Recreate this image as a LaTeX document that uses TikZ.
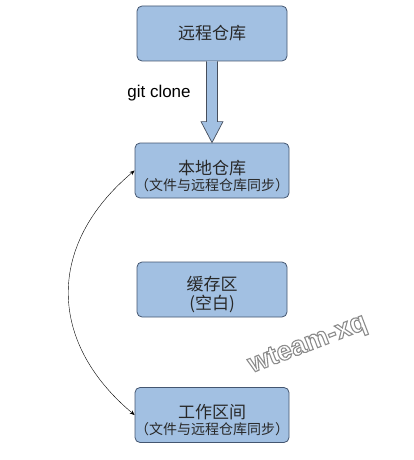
\documentclass[tikz,border=0pt]{standalone}
\usepackage{fontspec}
\setmainfont{Liberation Sans}
\newfontfamily\cjk{Noto Sans CJK SC}
\newcommand{\subsize}{\fontsize{14}{17}\selectfont}
\newcommand{\lowered}{\rule{0pt}{25pt}}
\newcommand{\outlined}[1]{\special{pdf:code 2 Tr 0.55 G 1.1 w}#1\special{pdf:code 0 Tr}}
\usetikzlibrary{arrows.meta}

\begin{document}
\begin{tikzpicture}[x=1pt,y=-1pt,
  repo/.style={draw=edgecolor,fill=boxcolor,line width=0.8pt,rounded corners=5pt,
    minimum width=150pt,minimum height=55pt,inner sep=0pt,align=center,
    text=textcolor,font=\cjk\fontsize{17}{20}\selectfont},
  blockarrow/.style={draw=arrowedge,fill=boxcolor,line width=0.7pt,line join=miter},
  linkarrow/.style={thin,{Stealth[length=5pt,width=4pt]}-{Stealth[length=5pt,width=4pt]}},
  wmtext/.style={rotate=21,inner sep=0pt,text=white,font=\bfseries\fontsize{27}{30}\selectfont}]
\definecolor{boxcolor}{RGB}{162,192,226}
\definecolor{edgecolor}{RGB}{68,86,112}
\definecolor{arrowedge}{RGB}{70,78,92}
\definecolor{textcolor}{RGB}{40,40,40}
\useasboundingbox (0,0) rectangle (414,460);
\node[repo] (remote) at (212,33.5) {远程仓库};
\node[repo] (local) at (212,170.5) {\lowered 本地仓库\\[-4pt]{\subsize （文件与远程仓库同步）}};
\node[repo] (cache) at (212,289.5) {\lowered 缓存区\\[-1pt](空白)};
\node[repo] (work) at (212,415) {\lowered 工作区间\\[-4pt]{\subsize （文件与远程仓库同步）}};
\draw[blockarrow] ([xshift=-5.5pt]remote.south) -- ([xshift=-5.5pt,yshift=21pt]local.north)
  -- ([xshift=-11pt,yshift=21pt]local.north) -- (local.north)
  -- ([xshift=11pt,yshift=21pt]local.north) -- ([xshift=5.5pt,yshift=21pt]local.north)
  -- ([xshift=5.5pt]remote.south);
\node[font=\fontsize{17}{20}\selectfont] (clone) at (159,93) {git clone};
\draw[linkarrow] (work.west) to[out=140,in=220,looseness=1.2] (local.west);
\node[wmtext] (mark) at (308,345) {\outlined{wteam-xq}};
\end{tikzpicture}
\end{document}
